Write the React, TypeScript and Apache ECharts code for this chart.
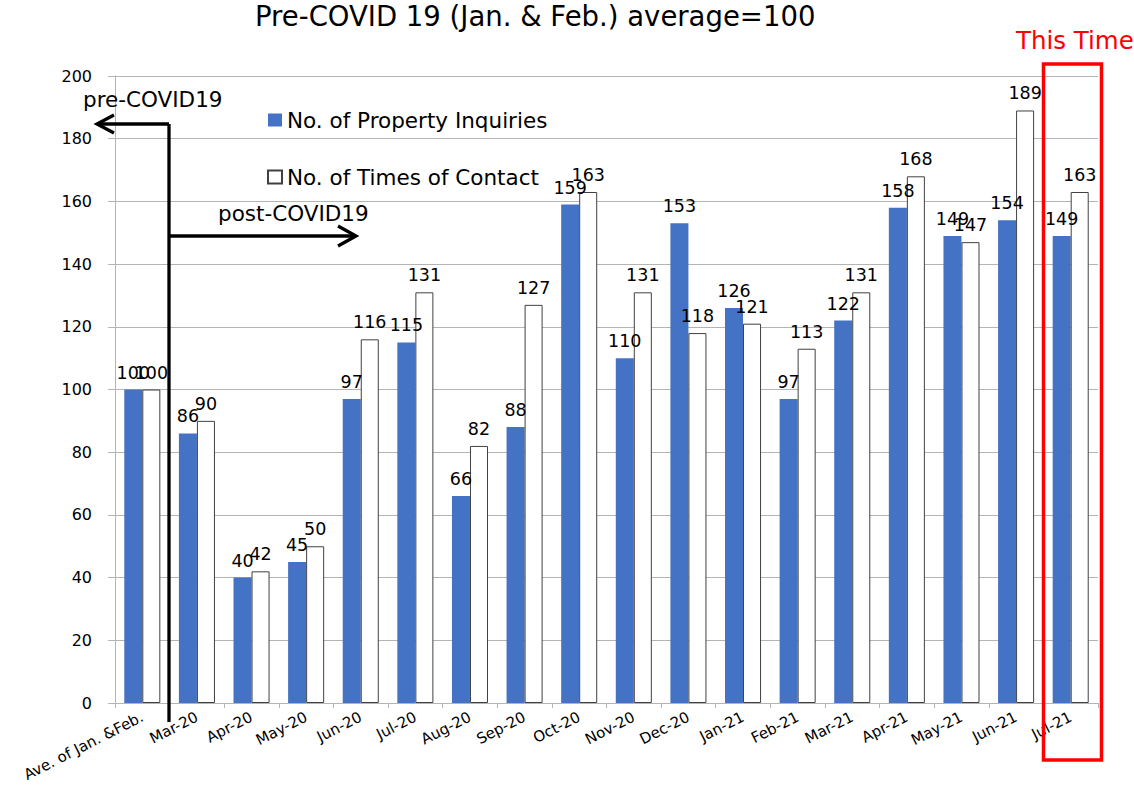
import React, { useEffect, useRef } from "react";
import * as echarts from "echarts";

const categories = [
  "Ave. of Jan. &Feb.", "Mar-20", "Apr-20", "May-20", "Jun-20", "Jul-20", "Aug-20", "Sep-20",
  "Oct-20", "Nov-20", "Dec-20", "Jan-21", "Feb-21", "Mar-21", "Apr-21", "May-21", "Jun-21", "Jul-21",
];
const inquiries = [100, 86, 40, 45, 97, 115, 66, 88, 159, 110, 153, 126, 97, 122, 158, 149, 154, 149];
const contacts = [100, 90, 42, 50, 116, 131, 82, 127, 163, 131, 118, 121, 113, 131, 168, 147, 189, 163];

const FONT = "DejaVu Sans, Verdana, sans-serif";

export default function App() {
  const ref = useRef<HTMLDivElement>(null);
  useEffect(() => {
    document.body.style.margin = "0";
    const chart = echarts.init(ref.current!, null, { renderer: "svg" });
    const labelCommon = {
      show: true,
      position: "top" as const,
      distance: 8,
      color: "#000",
      fontSize: 17.5,
      fontFamily: FONT,
    };
    chart.setOption({
      animation: false,
      backgroundColor: "#fff",
      textStyle: { fontFamily: FONT },
      grid: { left: 115, right: 36, top: 76, bottom: 82, containLabel: false, outerBoundsMode: "none" },
      legend: {
        orient: "vertical",
        left: 262,
        top: 104,
        itemGap: 35,
        itemWidth: 14,
        itemHeight: 13,
        icon: "rect",
        textStyle: { fontSize: 21.5, color: "#000", fontFamily: FONT },
        data: ["No. of Property Inquiries", "No. of Times of Contact"],
      },
      xAxis: {
        type: "category",
        data: categories,
        axisLine: { lineStyle: { color: "#b4b4b4" } },
        axisTick: { show: true, length: 5, lineStyle: { color: "#b4b4b4" } },
        axisLabel: { rotate: 27, fontSize: 15, color: "#000", fontFamily: FONT, interval: 0, margin: 13 },
      },
      yAxis: {
        type: "value",
        min: 0,
        max: 200,
        interval: 20,
        axisLine: { show: true, lineStyle: { color: "#b4b4b4" } },
        axisTick: { show: true, length: 7, lineStyle: { color: "#b4b4b4" } },
        splitLine: { lineStyle: { color: "#b4b4b4" } },
        axisLabel: { fontSize: 16, color: "#000", fontFamily: FONT, margin: 23 },
      },
      series: [
        {
          name: "No. of Property Inquiries",
          type: "bar",
          data: inquiries,
          barGap: "0%",
          barCategoryGap: "34%",
          itemStyle: { color: "#4472C4" },
          label: labelCommon,
        },
        {
          name: "No. of Times of Contact",
          type: "bar",
          data: contacts,
          itemStyle: { color: "#ffffff", borderColor: "#404040", borderWidth: 1 },
          label: labelCommon,
        },
      ],
      graphic: [
        {
          type: "text",
          left: 255,
          top: 2,
          style: { text: "Pre-COVID 19 (Jan. & Feb.) average=100", fontSize: 27.5, fill: "#000", fontFamily: FONT },
        },
        {
          type: "text",
          left: 1016,
          top: 28,
          style: { text: "This Time", fontSize: 24.5, fill: "#ff0000", fontFamily: FONT },
        },
        {
          type: "rect",
          shape: { x: 1043.5, y: 64, width: 58, height: 696 },
          style: { fill: "none", stroke: "#ff0000", lineWidth: 3.5 },
          z: 100,
        },
        {
          type: "line",
          shape: { x1: 169, y1: 124, x2: 169, y2: 722 },
          style: { stroke: "#000", lineWidth: 3.3 },
          z: 100,
        },
        {
          type: "polyline",
          shape: { points: [[169, 124], [97, 124]] },
          style: { stroke: "#000", lineWidth: 3.3, fill: "none" },
          z: 100,
        },
        {
          type: "polyline",
          shape: { points: [[114, 115], [97, 124], [114, 133]] },
          style: { stroke: "#000", lineWidth: 3.3, fill: "none" },
          z: 100,
        },
        {
          type: "polyline",
          shape: { points: [[169, 236], [356, 236]] },
          style: { stroke: "#000", lineWidth: 3.3, fill: "none" },
          z: 100,
        },
        {
          type: "polyline",
          shape: { points: [[338, 226], [356, 236], [338, 246]] },
          style: { stroke: "#000", lineWidth: 3.3, fill: "none" },
          z: 100,
        },
        {
          type: "text",
          left: 83,
          top: 88,
          style: { text: "pre-COVID19", fontSize: 21.5, fill: "#000", fontFamily: FONT },
          z: 100,
        },
        {
          type: "text",
          left: 218,
          top: 202,
          style: { text: "post-COVID19", fontSize: 21.5, fill: "#000", fontFamily: FONT },
          z: 100,
        },
      ],
    });
    return () => chart.dispose();
  }, []);
  return <div ref={ref} style={{ width: 1134, height: 785 }} />;
}
